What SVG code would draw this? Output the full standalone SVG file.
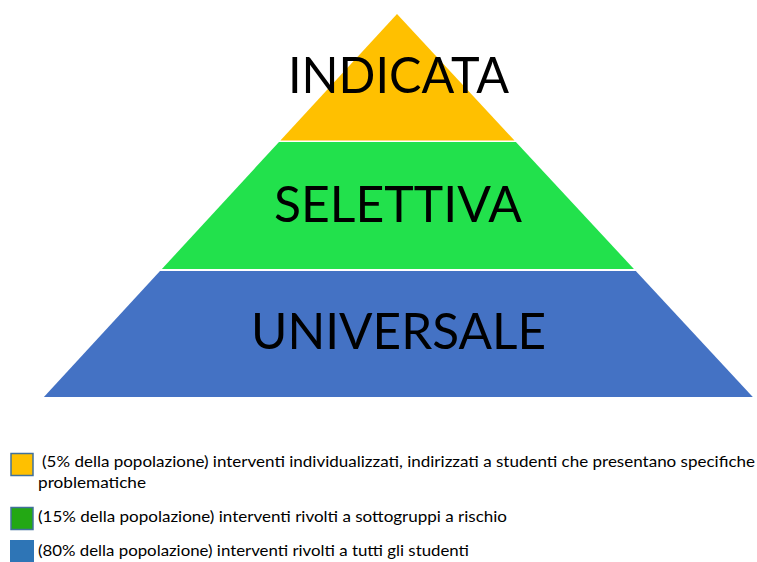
<svg xmlns="http://www.w3.org/2000/svg" width="757" height="562" viewBox="0 0 757 562">
<style>
.title{font-family:Lato,"Open Sans","Liberation Sans",sans-serif;font-size:50px;fill:#000;}
.leg{font-family:Lato,"Open Sans","Liberation Sans",sans-serif;font-size:15px;fill:#000;}
.sw{stroke:#41719C;stroke-width:1.5;}
</style>
<rect width="757" height="562" fill="#fff"/>
<g id="indicata">
<polygon points="397,14 514.5,140.5 280.4,140.5" fill="#FFC000"/>
<text class="title" x="288" y="93" textLength="221" lengthAdjust="spacingAndGlyphs">INDICATA</text>
</g>
<g id="selettiva">
<polygon points="279,142 515.9,142 633.9,269 161.9,269" fill="#22E14C"/>
<text class="title" x="274" y="222" textLength="248" lengthAdjust="spacingAndGlyphs">SELETTIVA</text>
</g>
<g id="universale">
<polygon points="160,271 635.8,271 752.8,397 43.9,397" fill="#4472C4"/>
<text class="title" x="251" y="349" textLength="295" lengthAdjust="spacingAndGlyphs">UNIVERSALE</text>
</g>
<g id="legend">
<rect class="sw" x="11" y="453.5" width="22" height="22" fill="#FFC000"/>
<text class="leg" x="42" y="467" textLength="713" lengthAdjust="spacingAndGlyphs">(5% della popolazione) interventi individualizzati, indirizzati a studenti che presentano specifiche</text>
<text class="leg" x="38" y="488" textLength="108" lengthAdjust="spacingAndGlyphs">problematiche</text>
<rect class="sw" x="11" y="507.5" width="22" height="22" fill="#23A814"/>
<text class="leg" x="38" y="522" textLength="469" lengthAdjust="spacingAndGlyphs">(15% della popolazione) interventi rivolti a sottogruppi a rischio</text>
<rect x="10" y="540" width="24" height="24" fill="#2E75B6"/>
<text class="leg" x="38" y="556" textLength="431" lengthAdjust="spacingAndGlyphs">(80% della popolazione) interventi rivolti a tutti gli studenti</text>
</g>
</svg>
